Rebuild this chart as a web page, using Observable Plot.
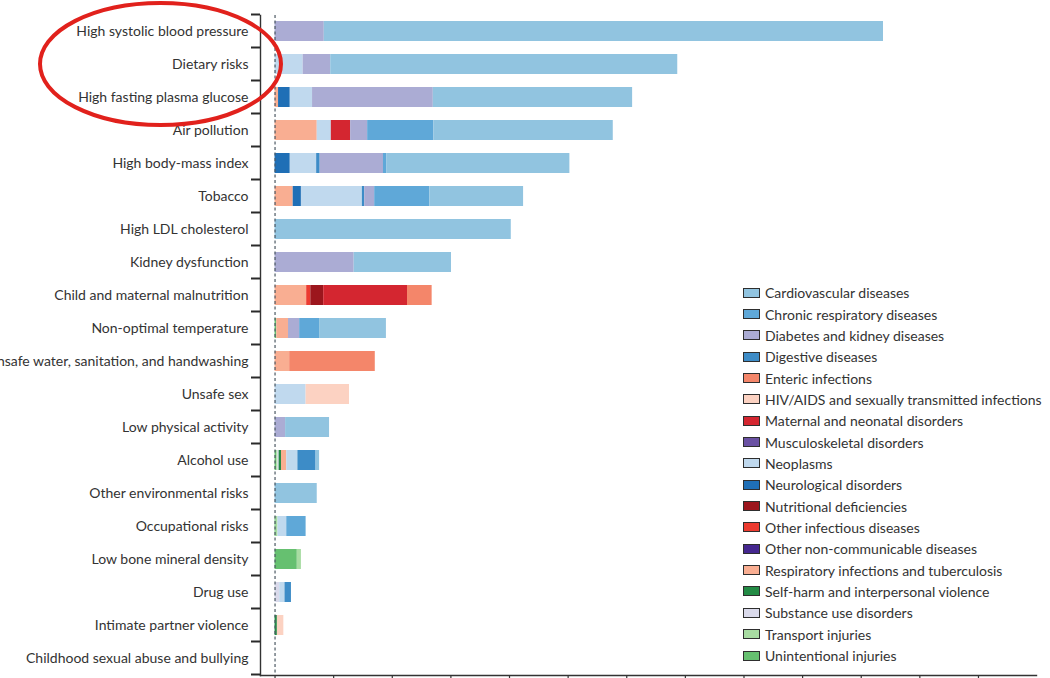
<!DOCTYPE html>
<html>
<head>
<meta charset="utf-8">
<script src="https://cdn.jsdelivr.net/npm/d3@7"></script>
<script src="https://cdn.jsdelivr.net/npm/@observablehq/plot@0.6"></script>
<style>
  html, body { margin: 0; padding: 0; background: #fff; }
  #chart { position: relative; width: 1050px; height: 678px; overflow: hidden; }
  #legend { position: absolute; left: 743px; top: 282px; font-family: Lato, "Noto Sans", sans-serif; font-size: 14px; color: #333; }
  #legend .item { display: flex; align-items: center; height: 21.35px; white-space: nowrap; }
  #legend .sw { width: 15px; height: 8px; border: 1.6px solid #2e2e2e; margin-right: 5px; flex: none; }
</style>
</head>
<body>
<div id="chart"><div id="legend"></div></div>
<script>
// Risk factors, top to bottom
const risks = [
  "High systolic blood pressure",
  "Dietary risks",
  "High fasting plasma glucose",
  "Air pollution",
  "High body-mass index",
  "Tobacco",
  "High LDL cholesterol",
  "Kidney dysfunction",
  "Child and maternal malnutrition",
  "Non-optimal temperature",
  "Unsafe water, sanitation, and handwashing",
  "Unsafe sex",
  "Low physical activity",
  "Alcohol use",
  "Other environmental risks",
  "Occupational risks",
  "Low bone mineral density",
  "Drug use",
  "Intimate partner violence",
  "Childhood sexual abuse and bullying"
];

// Cause groups, in legend order
const causes = [
  "Cardiovascular diseases",
  "Chronic respiratory diseases",
  "Diabetes and kidney diseases",
  "Digestive diseases",
  "Enteric infections",
  "HIV/AIDS and sexually transmitted infections",
  "Maternal and neonatal disorders",
  "Musculoskeletal disorders",
  "Neoplasms",
  "Neurological disorders",
  "Nutritional deficiencies",
  "Other infectious diseases",
  "Other non-communicable diseases",
  "Respiratory infections and tuberculosis",
  "Self-harm and interpersonal violence",
  "Substance use disorders",
  "Transport injuries",
  "Unintentional injuries"
];

const causeColors = [
  "#91c4e0", "#5fa8d8", "#abacd4", "#3d8cc7", "#f4866a", "#fcd2c2",
  "#d42630", "#6a51a3", "#c0d9ee", "#1f6fb6", "#9c161d", "#ec3b30",
  "#45278f", "#f9ae92", "#238b45", "#dadaeb", "#a8dca2", "#66c070"
];

// Bars stack outward from zero in reverse legend order
const stackOrder = causes.slice().reverse();

// Attributable burden per risk factor, by cause
const highSystolicBloodPressure = [["Diabetes and kidney diseases", 0.84], ["Cardiovascular diseases", 9.54]];
const dietaryRisks = [["Neoplasms", 0.48], ["Diabetes and kidney diseases", 0.47], ["Cardiovascular diseases", 5.92]];
const highFastingPlasmaGlucose = [["Respiratory infections and tuberculosis", 0.06], ["Neurological disorders", 0.2], ["Neoplasms", 0.38], ["Diabetes and kidney diseases", 2.06], ["Cardiovascular diseases", 3.4]];
const airPollution = [["Respiratory infections and tuberculosis", 0.72], ["Neoplasms", 0.24], ["Maternal and neonatal disorders", 0.33], ["Diabetes and kidney diseases", 0.29], ["Chronic respiratory diseases", 1.13], ["Cardiovascular diseases", 3.06]];
const highBodyMassIndex = [["Neurological disorders", 0.26], ["Neoplasms", 0.45], ["Digestive diseases", 0.06], ["Diabetes and kidney diseases", 1.08], ["Chronic respiratory diseases", 0.06], ["Cardiovascular diseases", 3.12]];
const tobacco = [["Respiratory infections and tuberculosis", 0.31], ["Neurological disorders", 0.14], ["Neoplasms", 1.04], ["Digestive diseases", 0.04], ["Diabetes and kidney diseases", 0.17], ["Chronic respiratory diseases", 0.94], ["Cardiovascular diseases", 1.6]];
const highLdlCholesterol = [["Cardiovascular diseases", 4.03]];
const kidneyDysfunction = [["Diabetes and kidney diseases", 1.35], ["Cardiovascular diseases", 1.66]];
const childMaternalMalnutrition = [["Respiratory infections and tuberculosis", 0.54], ["Other infectious diseases", 0.07], ["Nutritional deficiencies", 0.22], ["Maternal and neonatal disorders", 1.43], ["Enteric infections", 0.42]];
const nonOptimalTemperature = [["Unintentional injuries", 0.03], ["Respiratory infections and tuberculosis", 0.2], ["Diabetes and kidney diseases", 0.19], ["Chronic respiratory diseases", 0.34], ["Cardiovascular diseases", 1.14]];
const unsafeWash = [["Respiratory infections and tuberculosis", 0.25], ["Enteric infections", 1.46]];
const unsafeSex = [["Neoplasms", 0.53], ["HIV/AIDS and sexually transmitted infections", 0.74]];
const lowPhysicalActivity = [["Diabetes and kidney diseases", 0.18], ["Cardiovascular diseases", 0.75]];
const alcoholUse = [["Unintentional injuries", 0.03], ["Transport injuries", 0.02], ["Substance use disorders", 0.02], ["Self-harm and interpersonal violence", 0.04], ["Respiratory infections and tuberculosis", 0.09], ["Neoplasms", 0.19], ["Digestive diseases", 0.31], ["Cardiovascular diseases", 0.06]];
const otherEnvironmentalRisks = [["Cardiovascular diseases", 0.72]];
const occupationalRisks = [["Unintentional injuries", 0.02], ["Transport injuries", 0.03], ["Neoplasms", 0.15], ["Chronic respiratory diseases", 0.33]];
const lowBoneMineralDensity = [["Unintentional injuries", 0.38], ["Transport injuries", 0.07]];
const drugUse = [["Substance use disorders", 0.08], ["Neoplasms", 0.09], ["Digestive diseases", 0.11]];
const intimatePartnerViolence = [["Self-harm and interpersonal violence", 0.04], ["HIV/AIDS and sexually transmitted infections", 0.11]];
const childhoodSexualAbuse = [];

const segmentsByRisk = [
  highSystolicBloodPressure, dietaryRisks, highFastingPlasmaGlucose, airPollution,
  highBodyMassIndex, tobacco, highLdlCholesterol, kidneyDysfunction,
  childMaternalMalnutrition, nonOptimalTemperature, unsafeWash, unsafeSex,
  lowPhysicalActivity, alcoholUse, otherEnvironmentalRisks, occupationalRisks,
  lowBoneMineralDensity, drugUse, intimatePartnerViolence, childhoodSexualAbuse
];

// Axis ticks along the burden scale (unlabelled)
const xTicks = [0, 1, 2, 3, 4, 5, 6, 7, 8, 9, 10, 11, 12];

const table = [];
segmentsByRisk.forEach((segs, i) => {
  segs.forEach(([cause, value]) => table.push({risk: risks[i], cause, value}));
});

const plot = Plot.plot({
  width: 1050,
  height: 678,
  marginLeft: 260,
  marginRight: 14,
  marginTop: 15,
  marginBottom: 3,
  style: {fontFamily: "Lato, 'Noto Sans', sans-serif", fontSize: "14px", color: "#333", background: "white", overflow: "visible"},
  x: {domain: [-0.248, 12.99], axis: null},
  y: {domain: risks, paddingInner: 0.39, paddingOuter: 0.195, axis: null},
  color: {domain: causes, range: causeColors},
  marks: [
    Plot.barX(table, Plot.stackX({x: "value", y: "risk", fill: "cause", order: stackOrder})),
    Plot.ruleX([0], {stroke: "#4d5963", strokeDasharray: "3,2.5", strokeWidth: 1.2}),
    Plot.axisY({tickSize: 0, tickPadding: 12, fontSize: 14, label: null}),
    Plot.axisX({ticks: xTicks, tickSize: 6, tickFormat: () => "", strokeWidth: 1.2, label: null}),
    Plot.frame({anchor: "left", stroke: "#333", strokeWidth: 1.4}),
    Plot.frame({anchor: "bottom", stroke: "#333", strokeWidth: 1.4})
  ]
});

const chart = document.getElementById("chart");
chart.insertBefore(plot, chart.firstChild);

const yScale = plot.scale("y");
const bandStep = yScale.apply(risks[1]) - yScale.apply(risks[0]);
const centerOf = (r) => yScale.apply(r) + yScale.bandwidth / 2;
const frameLeft = 260;

// Separator ticks on the category axis: one above each band, one closing the last
const separators = risks.map((r) => centerOf(r) - bandStep / 2)
  .concat([centerOf(risks[risks.length - 1]) + bandStep / 2]);
const sepGroup = d3.select(plot).append("g")
  .attr("stroke", "#2a2a2a")
  .attr("stroke-width", 2);
separators.forEach((yy) => {
  sepGroup.append("line")
    .attr("x1", frameLeft - 9)
    .attr("x2", frameLeft)
    .attr("y1", yy)
    .attr("y2", yy);
});

// Highlight ring around the three leading risk factors
d3.select(plot).append("ellipse")
  .attr("cx", 160.5)
  .attr("cy", centerOf("Dietary risks"))
  .attr("rx", 120.5)
  .attr("ry", 61)
  .attr("fill", "none")
  .attr("stroke", "#e1211c")
  .attr("stroke-width", 4);

// Legend
const legend = d3.select("#legend");
causes.forEach((c, i) => {
  const item = legend.append("div").attr("class", "item");
  item.append("div").attr("class", "sw").style("background", causeColors[i]);
  item.append("span").text(c);
});
</script>
</body>
</html>
